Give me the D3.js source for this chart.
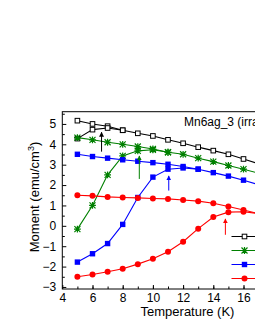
<!DOCTYPE html>
<html>
<head>
<meta charset="utf-8">
<script src="https://cdn.jsdelivr.net/npm/d3@7"></script>
<style>
  body { margin: 0; background: #fff; }
  svg { display: block; font-family: "Liberation Sans", Arial, sans-serif; }
</style>
</head>
<body>
<div id="chart"></div>
<script>
// field-cooled branches, 5..18 K
var tempsFC = [5, 6, 7, 8, 9, 10, 11, 12, 13, 14, 15, 16, 17, 18];
var blackFC = [5.16, 5.0, 4.89, 4.69, 4.54, 4.41, 4.22, 4.05, 3.86, 3.69, 3.51, 3.28, 3.05, 2.8];
var greenFC = [4.33, 4.22, 4.10, 4.0, 3.89, 3.77, 3.61, 3.51, 3.32, 3.15, 2.96, 2.78, 2.58, 2.35];
var blueFC  = [3.51, 3.40, 3.32, 3.24, 3.17, 3.10, 3.02, 2.91, 2.78, 2.61, 2.44, 2.24, 2.02, 1.8];
var redFC   = [1.50, 1.47, 1.42, 1.39, 1.37, 1.34, 1.32, 1.27, 1.21, 1.11, 0.95, 0.78, 0.6, 0.4];

// zero-field-cooled branches, until they join the FC curve
var tempsZFC = [5, 6, 7, 8, 9, 10, 11, 12, 13, 14, 15, 16, 17];
var blackZFC = [4.28, 4.72, 4.80, 4.69];
var greenZFC = [-0.16, 1.0, 2.5, 3.43, 3.68, 3.73, 3.61];
var blueZFC  = [-1.78, -1.37, -0.87, 0.07, 1.39, 2.39, 2.78, 2.84, 2.78];
var redZFC   = [-2.50, -2.39, -2.25, -2.11, -1.88, -1.62, -1.27, -0.78, -0.14, 0.43, 0.67, 0.69, 0.6];

// arrows: temperature, from, to
var arrowT    = [6.6, 9.1, 11.05, 14.8];
var arrowFrom = [3.64, 2.30, 1.73, -0.44];
var arrowTo   = [4.59, 3.43, 2.45, 0.34];

var xTicks = [4, 6, 8, 10, 12, 14, 16];
var yTicks = [-3, -2, -1, 0, 1, 2, 3, 4, 5];

var colors  = ['#000000', '#008000', '#0000ff', '#ff0000'];
var symbols = ['openSquare', 'star', 'square', 'circle'];
var fcSets  = [blackFC, greenFC, blueFC, redFC];
var zfcSets = [blackZFC, greenZFC, blueZFC, redZFC];

var width = 255, height = 330;
var plotLeft = 62.3, plotTop = 111.7, plotBottom = 289;

var x = d3.scaleLinear().domain([4, 20]).range([plotLeft, plotLeft + 16 * 15.1]);
var y = d3.scaleLinear().domain([-3.1, 5.6]).range([plotBottom, plotTop]);

var svg = d3.select('#chart').append('svg')
  .attr('width', width)
  .attr('height', height);

// frame
svg.append('rect')
  .attr('x', x(4)).attr('y', y(5.6))
  .attr('width', x(20) - x(4)).attr('height', y(-3.1) - y(5.6))
  .style('fill', 'none').style('stroke', '#000').style('stroke-width', 1);

// axes, ticks pointing in
svg.append('g')
  .attr('transform', 'translate(0,' + plotBottom + ')')
  .call(d3.axisBottom(x).tickValues(xTicks).tickSizeInner(-4).tickSizeOuter(0).tickPadding(4));
svg.append('g')
  .attr('transform', 'translate(0,' + plotBottom + ')')
  .call(d3.axisBottom(x).tickValues(d3.range(5, 20, 1)).tickSize(-2.5).tickFormat(''));
svg.append('g')
  .attr('transform', 'translate(' + plotLeft + ',0)')
  .call(d3.axisLeft(y).tickValues(yTicks).tickSizeInner(-4).tickSizeOuter(0).tickPadding(6));
svg.append('g')
  .attr('transform', 'translate(' + plotLeft + ',0)')
  .call(d3.axisLeft(y).tickValues(d3.range(-2.5, 5.6, 1)).tickSize(-2.5).tickFormat(''));

svg.selectAll('.domain').remove();
svg.selectAll('.tick line').style('stroke', '#000');
svg.selectAll('.tick text')
  .style('font-family', '"Liberation Sans", Arial, sans-serif')
  .style('font-size', '12px').style('fill', '#000');

var line = d3.line()
  .x(function(d) { return x(d[0]); })
  .y(function(d) { return y(d[1]); });

function drawMarker(g, type, color, cx, cy) {
  if (type === 'openSquare') {
    g.append('rect').attr('x', cx - 2.3).attr('y', cy - 2.3).attr('width', 4.6).attr('height', 4.6)
      .style('fill', '#fff').style('stroke', color).style('stroke-width', 1);
  } else if (type === 'square') {
    g.append('rect').attr('x', cx - 2.7).attr('y', cy - 2.7).attr('width', 5.4).attr('height', 5.4)
      .style('fill', color);
  } else if (type === 'circle') {
    g.append('circle').attr('cx', cx).attr('cy', cy).attr('r', 3)
      .style('fill', color);
  } else {
    var r = 3, q = 3.4;
    g.append('path')
      .attr('d', 'M' + (cx - r) + ',' + (cy - r) + 'L' + (cx + r) + ',' + (cy + r) +
                 'M' + (cx - r) + ',' + (cy + r) + 'L' + (cx + r) + ',' + (cy - r) +
                 'M' + cx + ',' + (cy - q) + 'L' + cx + ',' + (cy + q) +
                 'M' + (cx - q) + ',' + cy + 'L' + (cx + q) + ',' + cy)
      .style('fill', 'none').style('stroke', color).style('stroke-width', 1.2);
  }
}

var plot = svg.append('g');

fcSets.forEach(function(vals, i) {
  var pts = vals.map(function(v, j) { return [tempsFC[j], v]; });
  var zpts = zfcSets[i].map(function(v, j) { return [tempsZFC[j], v]; });
  plot.append('path').datum(pts).attr('d', line)
    .style('fill', 'none').style('stroke', colors[i]).style('stroke-width', 1.1);
  plot.append('path').datum(zpts).attr('d', line)
    .style('fill', 'none').style('stroke', colors[i]).style('stroke-width', 1.1);
  var g = plot.append('g');
  pts.concat(zpts).forEach(function(p) {
    drawMarker(g, symbols[i], colors[i], x(p[0]), y(p[1]));
  });
});

// arrows
var defs = svg.append('defs');
colors.forEach(function(c, i) {
  defs.append('marker')
    .attr('id', 'arr' + i)
    .attr('viewBox', '0 0 10 10').attr('refX', 9).attr('refY', 5)
    .attr('markerWidth', 5).attr('markerHeight', 5).attr('orient', 'auto')
    .append('path').attr('d', 'M0,0L10,5L0,10z').style('fill', c);
});
arrowT.forEach(function(t, i) {
  svg.append('line')
    .attr('x1', x(t)).attr('x2', x(t))
    .attr('y1', y(arrowFrom[i])).attr('y2', y(arrowTo[i]))
    .style('stroke', colors[i]).style('stroke-width', 1)
    .attr('marker-end', 'url(#arr' + i + ')');
});

// legend (labels run off the right edge)
var legY = [236.5, 250.5, 264.5, 278.5];
colors.forEach(function(c, i) {
  svg.append('line').attr('x1', 231.5).attr('x2', 262).attr('y1', legY[i]).attr('y2', legY[i])
    .style('stroke', c).style('stroke-width', 1);
  drawMarker(svg, symbols[i], c, 244.5, legY[i]);
});

svg.append('text')
  .attr('x', 184).attr('y', 126)
  .style('font-size', '12px')
  .text('Mn6ag_3 (irradiated)');

svg.append('text')
  .attr('x', 187.5).attr('y', 315.5)
  .attr('text-anchor', 'middle')
  .style('font-size', '13px')
  .text('Temperature (K)');

svg.append('text')
  .attr('transform', 'translate(38.5,197) rotate(-90)')
  .attr('text-anchor', 'middle')
  .style('font-size', '13px')
  .html('Moment (emu/cm<tspan dy="-5" font-size="9px">3</tspan><tspan dy="5">)</tspan>');
</script>
</body>
</html>
